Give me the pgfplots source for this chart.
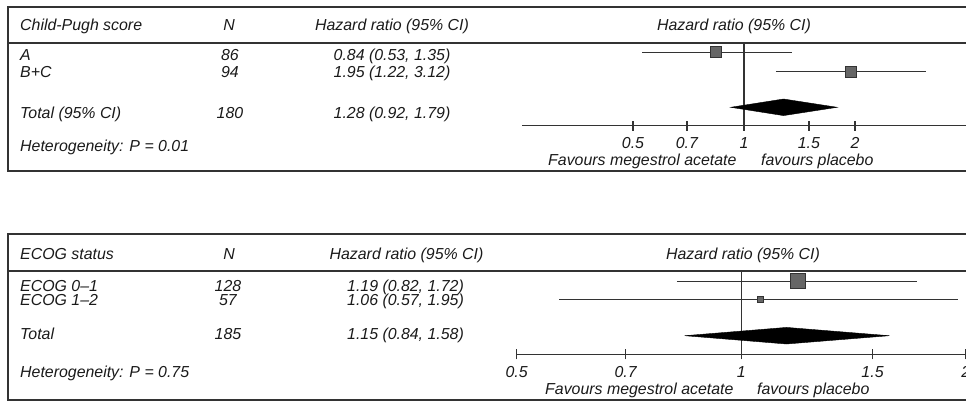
\documentclass[border=0pt]{standalone}
\usepackage{pgfplots}
\pgfplotsset{compat=1.18}
\usepackage{fontspec}
\setmainfont{Liberation Sans}
\definecolor{boxfill}{HTML}{666666}
\definecolor{rulecol}{HTML}{333333}
\definecolor{txtcol}{HTML}{1A1A1A}

\pgfplotsset{
  hrci/.style={rulecol, line width=1bp, mark=none},
  hrnull/.style={rulecol, line width=1.2bp, mark=none},
  hrest/.style={only marks, mark=square*, mark options={fill=boxfill, draw=rulecol, line width=1bp}},
  hrpooled/.style={fill=black, draw=black, mark=none},
}

\begin{document}
\begin{tikzpicture}[font=\fontsize{15.9bp}{19bp}\selectfont\itshape]
\useasboundingbox (0bp,0bp) rectangle (966bp,-401bp);
\begin{scope}[x=1bp, y=-1bp, text=txtcol]
  % table frames
  \begin{scope}[draw=rulecol, line width=1.3bp]
    \draw (966,7) -- (8,7) -- (8,171) -- (966,171);
    \draw (8,43) -- (966,43);
    \draw (966,234) -- (8,234) -- (8,400) -- (966,400);
    \draw (8,271) -- (966,271);
  \end{scope}
  \tikzset{lft/.style={anchor=base west, inner sep=0pt},
           mid/.style={anchor=base, inner sep=0pt}}
  % Child-Pugh table
  \node[lft] at (20,30.5) {Child-Pugh score};
  \node[mid] at (229,30.5) {N};
  \node[mid] at (392,30.5) {Hazard ratio (95\% CI)};
  \node[mid] at (734,30.5) {Hazard ratio (95\% CI)};
  \node[lft] at (20,60) {A};
  \node[mid] at (230,60) {86};
  \node[mid] at (392,60) {0.84 (0.53, 1.35)};
  \node[lft] at (20,77) {B+C};
  \node[mid] at (230,77) {94};
  \node[mid] at (392,77) {1.95 (1.22, 3.12)};
  \node[lft] at (20,118.5) {Total (95\% CI)};
  \node[mid] at (230,118.5) {180};
  \node[mid] at (392,118.5) {1.28 (0.92, 1.79)};
  \node[lft] at (20,151) {Heterogeneity: P = 0.01};
  \node[lft] at (548,165.5) {Favours megestrol acetate};
  \node[lft] at (761,165.5) {favours placebo};
  % ECOG table
  \node[lft] at (20,259) {ECOG status};
  \node[mid] at (229,259) {N};
  \node[mid] at (406.5,259) {Hazard ratio (95\% CI)};
  \node[mid] at (743,259) {Hazard ratio (95\% CI)};
  \node[lft] at (20,291) {ECOG 0--1};
  \node[mid] at (228,291) {128};
  \node[mid] at (405.5,291) {1.19 (0.82, 1.72)};
  \node[lft] at (20,305) {ECOG 1--2};
  \node[mid] at (228,305) {57};
  \node[mid] at (405.5,305) {1.06 (0.57, 1.95)};
  \node[lft] at (20,339) {Total};
  \node[mid] at (228,339) {185};
  \node[mid] at (405.5,339) {1.15 (0.84, 1.58)};
  \node[lft] at (20,377.5) {Heterogeneity: P = 0.75};
  \node[lft] at (545,394.5) {Favours megestrol acetate};
  \node[lft] at (757,394.5) {favours placebo};
\end{scope}

% Child-Pugh forest plot (y measured upward from the scale line)
\begin{axis}[
  scale only axis, xmode=log,
  at={(522bp,-171bp)}, anchor=south west,
  width=444bp, height=164bp,
  xmin=0.25, xmax=4, ymin=-45.5, ymax=118.5,
  axis x line=middle, axis y line=none,
  hide obscured x ticks=false,
  x axis line style={-, draw=rulecol, line width=1.3bp},
  xtick={0.5,0.7,1,1.5,2},
  xticklabels={0.5,0.7,1,1.5,2},
  minor xtick={},
  major tick length=10bp, tick align=center,
  tick style={draw=rulecol, line width=1.3bp},
  xticklabel style={font=\fontsize{15.9bp}{19bp}\selectfont\itshape, text=txtcol, yshift=-3.5bp},
  clip=false]
  \addplot[hrnull] coordinates {(1,0) (1,82.5)};
  \addplot[hrci] coordinates {(0.53,73.2) (1.35,73.2)};
  \addplot[hrci] coordinates {(1.22,53.8) (3.12,53.8)};
  \addplot[hrest, mark size=5.6bp] coordinates {(0.84,73.2)};
  \addplot[hrest, mark size=5.6bp] coordinates {(1.95,53.8)};
  \addplot[hrpooled] coordinates {(0.92,18.2) (1.28,26.5) (1.79,18.2) (1.28,9.9)} -- cycle;
\end{axis}

% ECOG forest plot
\begin{axis}[
  scale only axis, xmode=log,
  at={(516.7bp,-400bp)}, anchor=south west,
  width=449bp, height=166bp,
  xmin=0.5, xmax=2, ymin=-45.7, ymax=120.3,
  axis x line=middle, axis y line=none,
  hide obscured x ticks=false,
  x axis line style={-, draw=rulecol, line width=1.3bp},
  xtick={0.5,0.7,1,1.5,2},
  xticklabels={0.5,0.7,1,1.5,2},
  minor xtick={},
  major tick length=10bp, tick align=center,
  tick style={draw=rulecol, line width=1.3bp},
  xticklabel style={font=\fontsize{15.9bp}{19bp}\selectfont\itshape, text=txtcol, yshift=-3.5bp},
  clip=false]
  \addplot[hrnull] coordinates {(1,0) (1,83.3)};
  \addplot[hrci] coordinates {(0.82,73.3) (1.72,73.3)};
  \addplot[hrci] coordinates {(0.57,55) (1.95,55)};
  \addplot[hrest, mark size=7.5bp] coordinates {(1.19,73.3)};
  \addplot[hrest, mark size=3bp] coordinates {(1.06,55)};
  \addplot[hrpooled] coordinates {(0.84,18.6) (1.15,26.9) (1.58,18.6) (1.15,10.3)} -- cycle;
\end{axis}
\end{tikzpicture}
\end{document}
